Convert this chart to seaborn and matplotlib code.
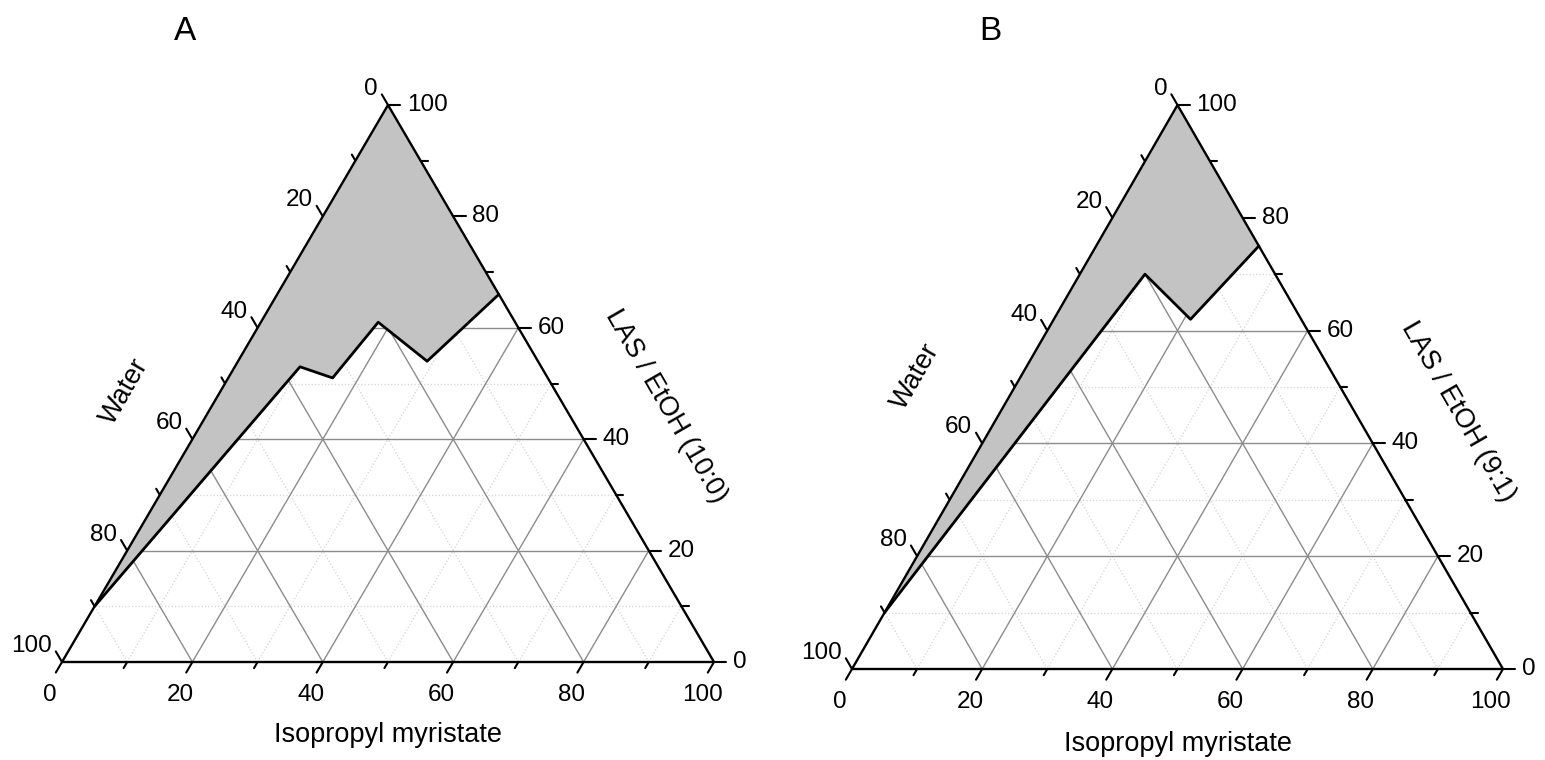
import numpy as np
import matplotlib
matplotlib.use('Agg')
import matplotlib.pyplot as plt
import matplotlib.transforms as mtransforms
import seaborn as sns

# phase boundary (%), going from the water side to the LAS side
a_ipm = [0, 10, 16, 18, 29, 34]
a_las = [10, 53, 51, 61, 54, 66]
a_water = [90, 37, 33, 21, 17, 0]

b_ipm = [0, 10, 21, 25]
b_las = [10, 70, 62, 75]
b_water = [90, 20, 17, 0]

# the one-phase region closes at the LAS/EtOH corner
corner_ipm, corner_las = 0, 100

major_ticks = [0, 20, 40, 60, 80, 100]
minor_ticks = [10, 30, 50, 70, 90]

panel_letters = ['A', 'B']
bottom_title = 'Isopropyl myristate'
left_title = 'Water'
right_titles = ['LAS / EtOH (10:0)', 'LAS / EtOH (9:1)']

sns.set_theme(style='white')
plt.rcParams['font.family'] = ['Liberation Sans', 'DejaVu Sans']
plt.rcParams['text.color'] = 'black'

H = np.sqrt(3) / 2


def to_xy(ipm, las):
    ipm = np.asarray(ipm, dtype=float) / 100
    las = np.asarray(las, dtype=float) / 100
    return ipm + las / 2, las * H


def line(ax, p1, p2, **kw):
    x1, y1 = to_xy(*p1)
    x2, y2 = to_xy(*p2)
    ax.plot([x1, x2], [y1, y2], clip_on=False, **kw)


def draw_ternary(fig, ax, ipm, las, water):
    ax.set_xlim(0, 1)
    ax.set_ylim(0, H)
    ax.axis('off')

    # grid: dotted at 10, 30 .. and solid at 20, 40 ..
    for k in minor_ticks + major_ticks[1:-1]:
        if k in minor_ticks:
            kw = dict(color='#d4d4d4', lw=0.9, ls=':', zorder=1)
        else:
            kw = dict(color='#8c8c8c', lw=1.0, zorder=2)
        line(ax, (0, k), (100 - k, k), **kw)        # const LAS
        line(ax, (k, 0), (k, 100 - k), **kw)        # const IPM
        line(ax, (100 - k, 0), (0, 100 - k), **kw)  # const water

    # region
    px, py = to_xy(list(ipm) + [corner_ipm], list(las) + [corner_las])
    ax.fill(px, py, color='#c3c3c3', lw=0, zorder=3)
    bx, by = to_xy(ipm, las)
    sns.lineplot(x=bx, y=by, sort=False, estimator=None, color='black',
                 lw=2.0, ax=ax, zorder=4)

    # frame
    tx, ty = to_xy([0, 100, 0, 0], [0, 0, 100, 0])
    ax.plot(tx, ty, color='black', lw=1.7, zorder=5, clip_on=False)

    # ticks
    for k in major_ticks + minor_ticks:
        L = 0.019 if k in major_ticks else 0.011
        x, y = to_xy(k, 0)
        ax.plot([x, x - 0.5 * L], [y, y - H * L], color='black', lw=1.5, clip_on=False)
        x, y = to_xy(100 - k, k)
        ax.plot([x, x + L], [y, y], color='black', lw=1.5, clip_on=False)
        x, y = to_xy(0, 100 - k)
        ax.plot([x, x - 0.5 * L], [y, y + H * L], color='black', lw=1.5, clip_on=False)

    # tick labels
    off_b = mtransforms.offset_copy(ax.transData, fig=fig, x=-12, y=-33, units='dots')
    off_r = mtransforms.offset_copy(ax.transData, fig=fig, x=19, y=0, units='dots')
    off_l = mtransforms.offset_copy(ax.transData, fig=fig, x=-10, y=16, units='dots')
    for k in major_ticks:
        x, y = to_xy(k, 0)
        ax.text(x, y, str(k), transform=off_b, ha='center', va='center', fontsize=17.5)
        x, y = to_xy(100 - k, k)
        ax.text(x, y, str(k), transform=off_r, ha='left', va='center', fontsize=17.5)
        x, y = to_xy(0, 100 - k)
        ax.text(x, y, str(k), transform=off_l, ha='right', va='center', fontsize=17.5)


W, Hpx = 1545, 760
fig = plt.figure(figsize=(W / 100, Hpx / 100), dpi=100)

# triangle boxes in pixels: left, bottom(y from top), width, height
boxes = [(62, 662, 652, 557), (852, 669, 651, 564)]
axes = []
for (l, b, w, h) in boxes:
    axes.append(fig.add_axes([l / W, (Hpx - b) / Hpx, w / W, h / Hpx]))

draw_ternary(fig, axes[0], a_ipm, a_las, a_water)
draw_ternary(fig, axes[1], b_ipm, b_las, b_water)

# titles
letter_pos = [(185, 31), (990, 31)]
bottom_pos = [(388, 735), (1178, 744)]
left_pos = [(125, 392), (916, 377)]
right_pos = [(666, 406), (1458, 412)]
for i in range(2):
    fig.text(letter_pos[i][0] / W, 1 - letter_pos[i][1] / Hpx, panel_letters[i],
             fontsize=24, ha='center', va='center')
    fig.text(bottom_pos[i][0] / W, 1 - bottom_pos[i][1] / Hpx, bottom_title,
             fontsize=19.5, ha='center', va='center')
    fig.text(left_pos[i][0] / W, 1 - left_pos[i][1] / Hpx, left_title,
             fontsize=19.5, ha='center', va='center', rotation=60)
    fig.text(right_pos[i][0] / W, 1 - right_pos[i][1] / Hpx, right_titles[i],
             fontsize=19.5, ha='center', va='center', rotation=-60)

fig.savefig('out.png', dpi=100, facecolor='white')
